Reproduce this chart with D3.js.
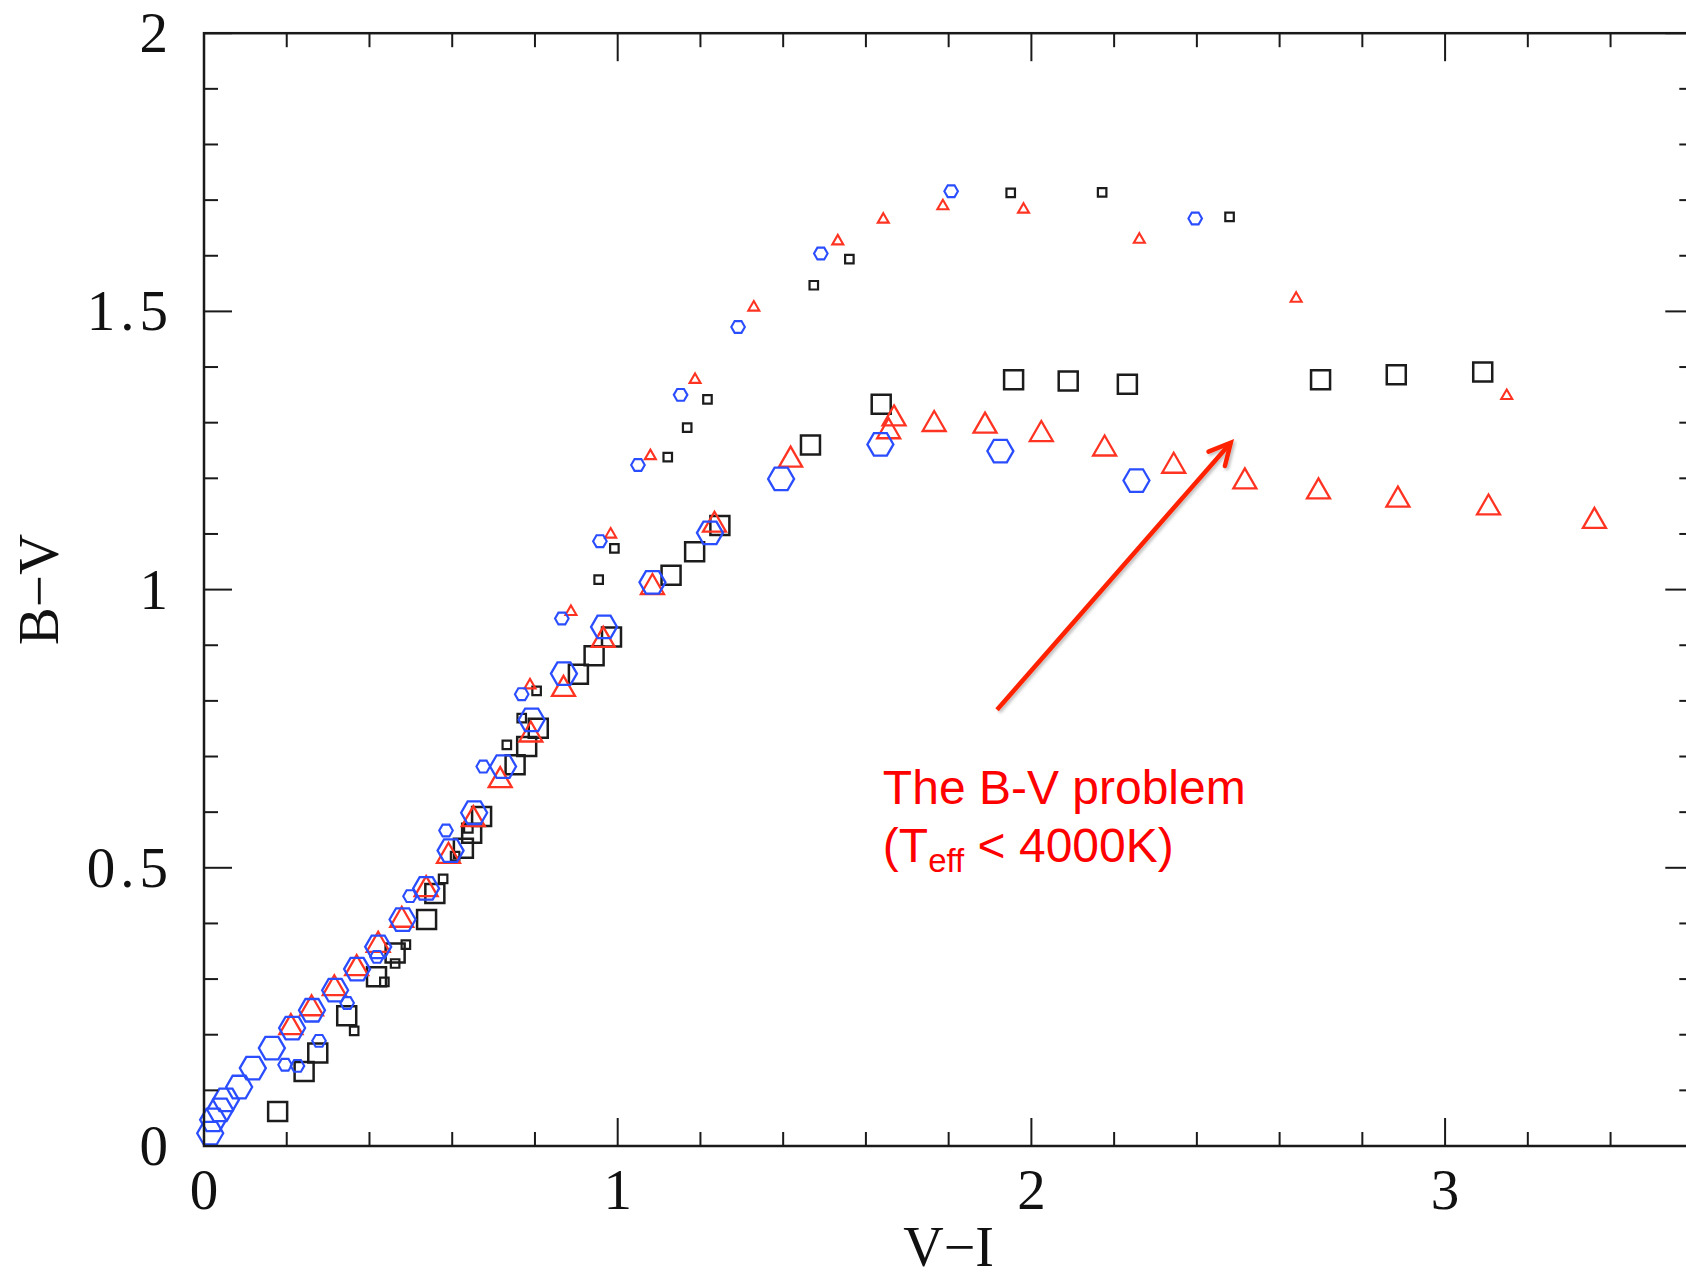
<!DOCTYPE html>
<html>
<head>
<meta charset="utf-8">
<script src="https://cdn.jsdelivr.net/npm/d3@7"></script>
<style>
    body { margin: 0; background: white; }
    svg { display: block; }
</style>
</head>
<body>
<div id="canvas"></div>
<script>
"use strict"

/* Size of the canvas */
let svgWidth = 1686;
let svgHeight = 1277;

/* Plot box (the right edge sits just outside the picture) */
let leftMargin = 204
let topMargin = 33.2
let bottomMargin = 131
let plotRight = 1693.3

/* Axis domains */
let maxVI = 3.6
let maxBV = 2

/* Tick labels */
let xTickLabels = ["0", "1", "2", "3"]
let yTickLabels = ["0", "0.5", "1", "1.5", "2"]

/* Data: [V-I, B-V] for each series */
let bigSquares = [
    [0.178, 0.062], [0.242, 0.134], [0.275, 0.167], [0.345, 0.234], [0.417, 0.304],
    [0.462, 0.347], [0.538, 0.407], [0.558, 0.454], [0.627, 0.535], [0.647, 0.562],
    [0.671, 0.592], [0.752, 0.685], [0.780, 0.718], [0.808, 0.751], [0.905, 0.848],
    [0.943, 0.881], [0.985, 0.915], [1.129, 1.026], [1.186, 1.068], [1.247, 1.115],
    [1.466, 1.260], [1.637, 1.333], [1.957, 1.377], [2.089, 1.375], [2.232, 1.369],
    [2.699, 1.377], [2.882, 1.386], [3.091, 1.391]
];

let smallSquares = [
    [0.363, 0.207], [0.436, 0.295], [0.462, 0.328], [0.488, 0.362], [0.578, 0.480],
    [0.607, 0.521], [0.639, 0.571], [0.732, 0.721], [0.768, 0.769], [0.804, 0.818],
    [0.954, 1.018], [0.992, 1.074], [1.121, 1.238], [1.168, 1.291], [1.217, 1.342],
    [1.474, 1.547], [1.560, 1.594], [1.950, 1.713], [2.171, 1.714], [2.479, 1.670]
];

let bigTriangles = [
    [0.210, 0.219], [0.260, 0.253], [0.315, 0.289], [0.369, 0.325], [0.421, 0.367],
    [0.478, 0.412], [0.537, 0.467], [0.591, 0.527], [0.651, 0.593], [0.716, 0.663],
    [0.790, 0.745], [0.869, 0.827], [0.965, 0.915], [1.084, 1.010], [1.234, 1.122],
    [1.418, 1.239], [1.655, 1.290], [1.668, 1.313], [1.765, 1.303], [1.888, 1.300],
    [2.024, 1.285], [2.177, 1.259], [2.344, 1.228], [2.516, 1.200], [2.694, 1.182],
    [2.886, 1.167], [3.105, 1.153], [3.361, 1.129]
];

let smallTriangles = [
    [0.788, 0.831], [0.887, 0.963], [0.983, 1.102], [1.079, 1.243], [1.187, 1.380],
    [1.329, 1.510], [1.532, 1.629], [1.642, 1.668], [1.786, 1.692], [1.981, 1.686],
    [2.261, 1.632], [2.640, 1.526], [3.149, 1.351]
];

let bigHexagons = [
    [0.015, 0.023], [0.022, 0.047], [0.039, 0.065], [0.053, 0.083], [0.085, 0.106],
    [0.118, 0.140], [0.164, 0.176], [0.213, 0.212], [0.261, 0.244], [0.317, 0.280],
    [0.370, 0.318], [0.421, 0.358], [0.480, 0.407], [0.537, 0.463], [0.596, 0.531],
    [0.653, 0.599], [0.723, 0.682], [0.792, 0.766], [0.870, 0.849], [0.967, 0.933],
    [1.084, 1.013], [1.223, 1.102], [1.395, 1.199], [1.635, 1.261], [1.925, 1.249],
    [2.254, 1.196]
];

let smallHexagons = [
    [0.196, 0.146], [0.226, 0.144], [0.278, 0.189], [0.346, 0.257], [0.418, 0.340],
    [0.498, 0.449], [0.585, 0.567], [0.675, 0.682], [0.768, 0.812], [0.865, 0.948],
    [0.957, 1.087], [1.049, 1.224], [1.152, 1.350], [1.291, 1.472], [1.491, 1.604],
    [1.806, 1.716], [2.396, 1.667]
];

/* Annotation: arrow tail and tip, and text anchor, in data units */
let arrowTail = [1.917, 0.784]
let arrowTip = [2.482, 1.264]
let notePosition = [1.641, 0.615]

/* Colours */
let black = "#1c1c1c"
let red = "#ff3322"
let blue = "#2a4dff"
let noteRed = "#ff0000"

/* The canvas */
let svg = d3.select("#canvas")
    .append("svg")
    .attr("width", svgWidth)
    .attr("height", svgHeight);

svg.append("rect")
    .attr("width", svgWidth)
    .attr("height", svgHeight)
    .attr("fill", "white");

/* Scales */
let xScale = d3.scaleLinear()
    .domain([0, maxVI])
    .range([leftMargin, plotRight]);

let yScale = d3.scaleLinear()
    .domain([0, maxBV])
    .range([svgHeight - bottomMargin, topMargin]);

/* Marker shapes centred on 0,0 */
function squarePath(side) {
    let h = side / 2;
    return "M" + (-h) + "," + (-h) + "H" + h + "V" + h + "H" + (-h) + "Z";
}

function trianglePath(w, h) {
    return "M0," + (-h / 2) + "L" + (w / 2) + "," + (h / 2) + "L" + (-w / 2) + "," + (h / 2) + "Z";
}

function hexagonPath(r) {
    let pts = [];
    for (let k = 0; k < 6; k++) {
        let a = Math.PI / 3 * k;
        pts.push([r * Math.cos(a), r * Math.sin(a)]);
    }
    return "M" + pts.map(function (p) { return p[0].toFixed(2) + "," + p[1].toFixed(2); }).join("L") + "Z";
}

let series = [
    { data: bigSquares, path: squarePath(19), color: black, width: 2.5 },
    { data: smallSquares, path: squarePath(8.5), color: black, width: 2.2 },
    { data: bigTriangles, path: trianglePath(23, 20), color: red, width: 2.3 },
    { data: smallTriangles, path: trianglePath(11, 9.5), color: red, width: 2.1 },
    { data: bigHexagons, path: hexagonPath(13), color: blue, width: 2.3 },
    { data: smallHexagons, path: hexagonPath(6.8), color: blue, width: 2.1 }
];

/* Drawing the points */
series.forEach(function (s) {
    svg.append("g")
        .selectAll("path")
        .data(s.data)
        .join("path")
        .attr("d", s.path)
        .attr("transform", function (d) {
            return "translate(" + xScale(d[0]) + "," + yScale(d[1]) + ")";
        })
        .attr("fill", "none")
        .attr("stroke", s.color)
        .attr("stroke-width", s.width)
        .attr("stroke-linejoin", "miter");
});

/* Frame */
svg.append("rect")
    .attr("x", xScale(0))
    .attr("y", yScale(maxBV))
    .attr("width", xScale(maxVI) - xScale(0))
    .attr("height", yScale(0) - yScale(maxBV))
    .attr("fill", "none")
    .attr("stroke", "#1a1a1a")
    .attr("stroke-width", 2.5);

/* Ticks on all four sides, pointing inwards */
let minorLen = 14
let majorLen = 28

for (let i = 0; i <= 18; i++) {
    let x = xScale(i * 0.2);
    let len = (i % 5 === 0) ? majorLen : minorLen;
    svg.append("line")
        .attr("x1", x).attr("x2", x)
        .attr("y1", yScale(0)).attr("y2", yScale(0) - len)
        .attr("stroke", "#1a1a1a").attr("stroke-width", 2);
    svg.append("line")
        .attr("x1", x).attr("x2", x)
        .attr("y1", yScale(maxBV)).attr("y2", yScale(maxBV) + len)
        .attr("stroke", "#1a1a1a").attr("stroke-width", 2);
}

for (let i = 0; i <= 20; i++) {
    let y = yScale(i * 0.1);
    let len = (i % 5 === 0) ? majorLen : minorLen;
    svg.append("line")
        .attr("x1", xScale(0)).attr("x2", xScale(0) + len)
        .attr("y1", y).attr("y2", y)
        .attr("stroke", "#1a1a1a").attr("stroke-width", 2);
    svg.append("line")
        .attr("x1", xScale(maxVI)).attr("x2", xScale(maxVI) - len)
        .attr("y1", y).attr("y2", y)
        .attr("stroke", "#1a1a1a").attr("stroke-width", 2);
}

/* Tick labels */
let serif = "'Liberation Serif', 'Times New Roman', serif"

xTickLabels.forEach(function (t) {
    svg.append("text")
        .attr("x", xScale(+t))
        .attr("y", yScale(0) + 63)
        .style("text-anchor", "middle")
        .style("font-family", serif)
        .style("font-size", "57px")
        .attr("fill", "#111")
        .text(t);
});

yTickLabels.forEach(function (t) {
    svg.append("text")
        .attr("x", xScale(0) - 36 + 5)
        .attr("y", yScale(+t) + 19)
        .style("text-anchor", "end")
        .style("font-family", serif)
        .style("font-size", "57px")
        .style("letter-spacing", "5px")
        .attr("fill", "#111")
        .text(t);
});

/* Axis titles */
svg.append("text")
    .attr("x", (xScale(0) + xScale(maxVI)) / 2)
    .attr("y", 1266)
    .style("text-anchor", "middle")
    .style("font-family", serif)
    .style("font-size", "56px")
    .attr("fill", "#111")
    .text("V\u2212I");

svg.append("text")
    .attr("transform", "translate(58," + (yScale(0) + yScale(maxBV)) / 2 + ") rotate(-90)")
    .style("text-anchor", "middle")
    .style("font-family", serif)
    .style("font-size", "57px")
    .attr("fill", "#111")
    .text("B\u2212V");

/* Annotation arrow */
let defs = svg.append("defs");
defs.append("filter")
    .attr("id", "shadow")
    .append("feDropShadow")
    .attr("dx", 2).attr("dy", 2)
    .attr("stdDeviation", 1.5)
    .attr("flood-color", "#000")
    .attr("flood-opacity", 0.25);

let tx = xScale(arrowTail[0]), ty = yScale(arrowTail[1]);
let hx = xScale(arrowTip[0]), hy = yScale(arrowTip[1]);
let ang = Math.atan2(ty - hy, tx - hx);
let wing = 24, spread = 27 * Math.PI / 180;
let w1 = [hx + wing * Math.cos(ang + spread), hy + wing * Math.sin(ang + spread)];
let w2 = [hx + wing * Math.cos(ang - spread), hy + wing * Math.sin(ang - spread)];

let arrow = svg.append("g")
    .attr("filter", "url(#shadow)")
    .attr("stroke", "#ff2200")
    .attr("stroke-width", 4.5)
    .attr("fill", "none");

arrow.append("line")
    .attr("x1", tx).attr("y1", ty)
    .attr("x2", hx - 3 * Math.cos(ang + Math.PI)).attr("y2", hy - 3 * Math.sin(ang + Math.PI));

arrow.append("path")
    .attr("d", "M" + w1[0] + "," + w1[1] + "L" + hx + "," + hy + "L" + w2[0] + "," + w2[1])
    .attr("stroke-linecap", "round")
    .attr("stroke-linejoin", "miter");

/* Annotation text */
let sans = "'Liberation Sans', Arial, Helvetica, sans-serif"
let nx = xScale(notePosition[0]), ny = yScale(notePosition[1]);

svg.append("text")
    .attr("x", nx)
    .attr("y", ny)
    .style("font-family", sans)
    .style("font-size", "48px")
    .attr("fill", noteRed)
    .text("The B-V problem");

let line2 = svg.append("text")
    .attr("x", nx)
    .attr("y", ny + 58)
    .style("font-family", sans)
    .style("font-size", "48px")
    .attr("fill", noteRed);

line2.append("tspan").text("(T");
line2.append("tspan")
    .attr("dy", 10)
    .style("font-size", "33px")
    .text("eff");
line2.append("tspan")
    .attr("dy", -10)
    .text(" < 4000K)");
</script>
</body>
</html>
